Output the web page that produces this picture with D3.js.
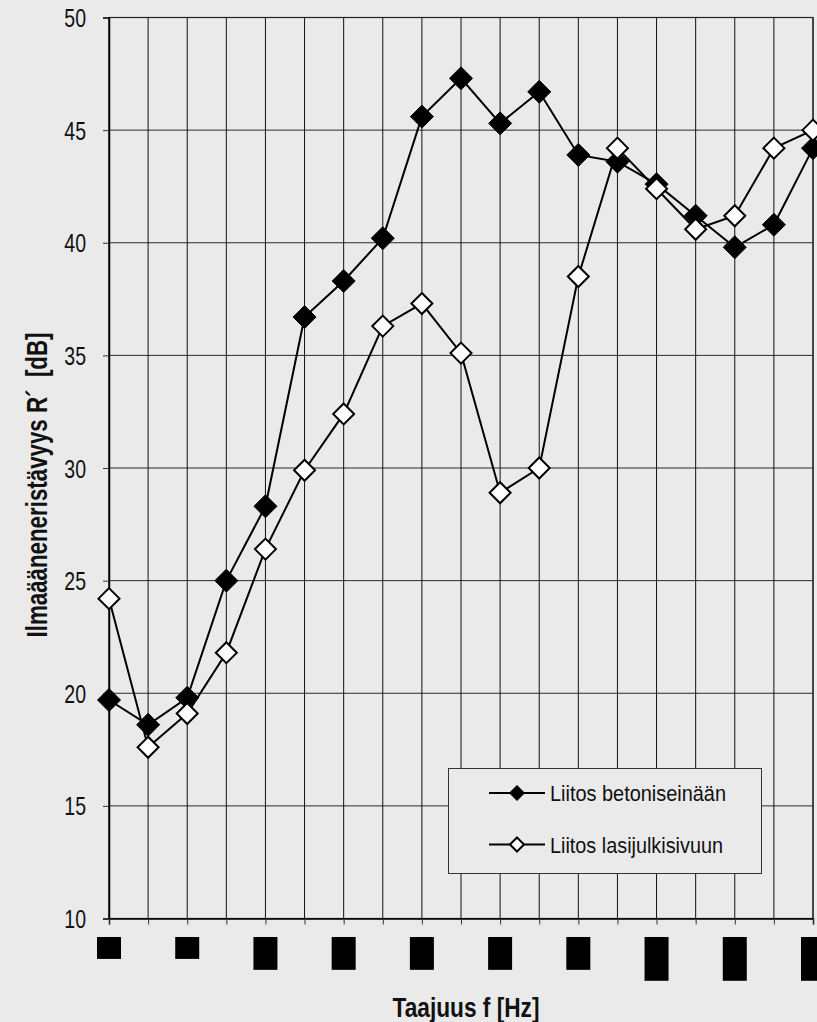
<!DOCTYPE html>
<html>
<head>
<meta charset="utf-8">
<script src="https://cdn.jsdelivr.net/npm/d3@7"></script>
<style>
  html, body { margin: 0; padding: 0; background: #eaeaea; }
  svg { display: block; }
</style>
</head>
<body>
<script>
// ---- data ----
const frequencies = ["50","63","80","100","125","160","200","250","315","400","500","630","800","1000","1250","1600","2000","2500","3150"];
const labeledFrequencies = ["50","80","125","200","315","500","800","1250","2000","3150"];
const betoniseinaan = [19.7,18.6,19.8,25.0,28.3,36.7,38.3,40.2,45.6,47.3,45.3,46.7,43.9,43.6,42.6,41.2,39.8,40.8,44.2];
const lasijulkisivuun = [24.2,17.6,19.1,21.8,26.4,29.9,32.4,36.3,37.3,35.1,28.9,30.0,38.5,44.2,42.4,40.6,41.2,44.2,45.0];
const yTicks = [10,15,20,25,30,35,40,45,50];
const seriesNames = ["Liitos betoniseinään","Liitos lasijulkisivuun"];
const yTitle = "Ilmaääneneristävyys R\u00B4  [dB]";
const xTitle = "Taajuus f [Hz]";

// ---- layout ----
const W = 817, H = 1022;
const mLeft = 109, mRight = 813, mTop = 17.5, mBottom = 918.5;
const narrow = "'Liberation Sans Narrow','Arial Narrow','Liberation Sans',Arial,sans-serif";
const condense = 0.78;

const svg = d3.select("body").append("svg").attr("width", W).attr("height", H);
svg.append("rect").attr("width", W).attr("height", H).attr("fill", "#eaeaea");

const x = d3.scalePoint().domain(frequencies).range([mLeft, mRight]);
const y = d3.scaleLinear().domain([10, 50]).range([mBottom, mTop]);

// horizontal grid
svg.append("g").selectAll("line").data(yTicks).join("line")
  .attr("x1", mLeft).attr("x2", mRight)
  .attr("y1", d => y(d)).attr("y2", d => y(d))
  .attr("stroke", "#2a2a2a").attr("stroke-width", 1);

// vertical grid
svg.append("g").selectAll("line").data(frequencies).join("line")
  .attr("x1", d => x(d)).attr("x2", d => x(d))
  .attr("y1", mTop).attr("y2", mBottom)
  .attr("stroke", "#111").attr("stroke-width", 1);

// frame
svg.append("rect").attr("x", mLeft).attr("y", mTop).attr("width", mRight - mLeft).attr("height", mBottom - mTop)
  .attr("fill", "none").attr("stroke", "#222").attr("stroke-width", 1.2);

// y axis
const yAxis = d3.axisLeft(y).tickValues(yTicks).tickSize(6).tickPadding(17);
const gy = svg.append("g").attr("transform", `translate(${mLeft},0)`).call(yAxis);
gy.select(".domain").attr("stroke", "#000").attr("stroke-width", 1.5);
gy.selectAll(".tick line").attr("stroke", "#333").attr("x2", -6);
gy.selectAll(".tick text").attr("font-family", narrow).attr("font-size", 25)
  .attr("fill", "#111").attr("dy", "0.36em")
  .each(function () {
    const len = this.getComputedTextLength();
    d3.select(this).attr("textLength", len * condense).attr("lengthAdjust", "spacingAndGlyphs");
  });

// x axis
const xAxis = d3.axisBottom(x).tickValues(frequencies).tickSize(6).tickFormat("");
const gx = svg.append("g").attr("transform", `translate(0,${mBottom})`).call(xAxis);
gx.select(".domain").attr("stroke", "#000").attr("stroke-width", 1.5);
gx.selectAll(".tick line").attr("stroke", "#333");

// x tick labels (rendered as solid blocks like in the reference)
const xl = svg.append("g");
labeledFrequencies.forEach(f => {
  const g = xl.append("g");
  const t = g.append("text")
    .attr("transform", `translate(${x(f) + 8},937) rotate(-90)`)
    .attr("text-anchor", "end")
    .attr("font-family", narrow).attr("font-size", 24)
    .attr("fill", "#000")
    .text(f);
  const len = t.node().getComputedTextLength() * 0.82;
  t.attr("textLength", len).attr("lengthAdjust", "spacingAndGlyphs");
  g.insert("rect", "text")
    .attr("x", x(f) - 12).attr("y", 937)
    .attr("width", 24).attr("height", len)
    .attr("fill", "#000");
});

// titles
svg.append("text")
  .attr("transform", `translate(47,485) rotate(-90)`)
  .attr("text-anchor", "middle")
  .attr("font-family", narrow).attr("font-weight", "bold").attr("font-size", 29)
  .attr("fill", "#111")
  .attr("textLength", 305).attr("lengthAdjust", "spacingAndGlyphs")
  .style("white-space", "pre")
  .text(yTitle);

svg.append("text")
  .attr("x", 466).attr("y", 1017)
  .attr("text-anchor", "middle")
  .attr("font-family", narrow).attr("font-weight", "bold").attr("font-size", 28)
  .attr("fill", "#111")
  .attr("textLength", 147).attr("lengthAdjust", "spacingAndGlyphs")
  .text(xTitle);

// series
const line = d3.line().x((d, i) => x(frequencies[i])).y(d => y(d));
const diamond = r => `M0,${-r}L${r},0L0,${r}L${-r},0Z`;

function drawSeries(values, filled) {
  const g = svg.append("g");
  g.append("path").attr("d", line(values)).attr("fill", "none")
    .attr("stroke", "#000").attr("stroke-width", 2);
  g.selectAll("path.m").data(values).join("path").attr("class", "m")
    .attr("transform", (d, i) => `translate(${x(frequencies[i])},${y(d)})`)
    .attr("d", diamond(filled ? 11.5 : 10.5))
    .attr("fill", filled ? "#000" : "#fff")
    .attr("stroke", "#000").attr("stroke-width", filled ? 1 : 2);
}
drawSeries(betoniseinaan, true);
drawSeries(lasijulkisivuun, false);

// legend
const lg = svg.append("g");
lg.append("rect").attr("x", 448.5).attr("y", 768.5).attr("width", 313).attr("height", 105)
  .attr("fill", "#eaeaea").attr("stroke", "#333").attr("stroke-width", 1);
seriesNames.forEach((name, i) => {
  const cy = 793 + i * 51.5;
  lg.append("line").attr("x1", 489).attr("x2", 545).attr("y1", cy).attr("y2", cy)
    .attr("stroke", "#000").attr("stroke-width", 2);
  lg.append("path").attr("transform", `translate(517,${cy})`)
    .attr("d", diamond(i === 0 ? 7.5 : 7))
    .attr("fill", i === 0 ? "#000" : "#fff")
    .attr("stroke", "#000").attr("stroke-width", i === 0 ? 1 : 2);
  lg.append("text").attr("x", 550).attr("y", cy + 8)
    .attr("font-family", narrow).attr("font-size", 22).attr("fill", "#111")
    .attr("textLength", i === 0 ? 176 : 173).attr("lengthAdjust", "spacingAndGlyphs")
    .text(name);
});
</script>
</body>
</html>
